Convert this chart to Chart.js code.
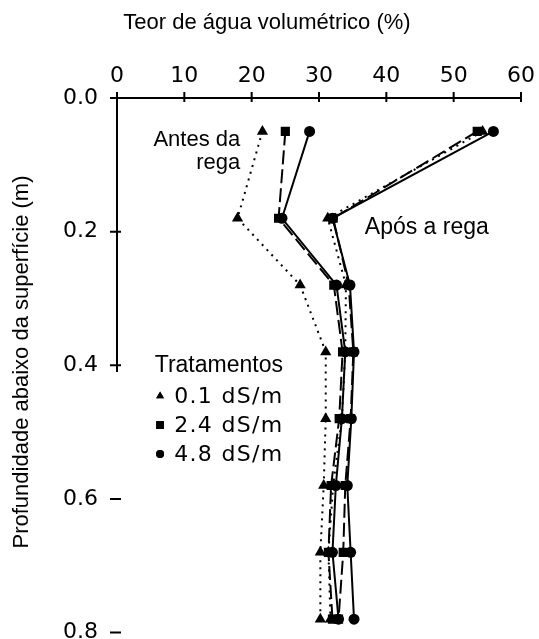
<!DOCTYPE html>
<html>
<head>
<meta charset="utf-8">
<script src="https://cdn.jsdelivr.net/npm/chart.js@4.4.1/dist/chart.umd.min.js"></script>
<style>
  html, body { margin: 0; padding: 0; background: #fff; }
  canvas { display: block; }
</style>
</head>
<body>
<canvas id="chart" width="539" height="639"></canvas>
<script>
// Sampling depths (m)
const depths = [0.05, 0.18, 0.28, 0.38, 0.48, 0.58, 0.68, 0.78];

// Volumetric water content (%) before irrigation, per treatment
const antes01 = [21.6, 17.9, 27.2, 31.0, 31.0, 30.7, 30.2, 30.2];
const antes24 = [25.0, 24.0, 32.2, 33.5, 33.0, 31.8, 31.4, 32.0];
const antes48 = [28.6, 24.5, 32.6, 33.9, 33.4, 32.5, 32.0, 32.9];

// Volumetric water content (%) after irrigation, per treatment
const apos01 = [54.3, 31.3, 34.0, 33.9, 33.4, 32.1, 31.4, 31.7];
const apos24 = [53.5, 32.1, 34.4, 35.1, 34.7, 33.9, 33.6, 32.9];
const apos48 = [55.9, 32.0, 34.6, 35.2, 34.8, 34.2, 34.7, 35.2];

const xTicks = [0, 10, 20, 30, 40, 50, 60];
const yTicks = [0.0, 0.2, 0.4, 0.6, 0.8];
const treatments = ['0.1 dS/m', '2.4 dS/m', '4.8 dS/m'];

const styles = [
  { point: 'triangle', radius: 6.5, key: 4.5, dash: [2, 5] },
  { point: 'rect', radius: 6.5, key: 5.5, dash: [14, 5] },
  { point: 'circle', radius: 5.5, key: 4, dash: [] },
];

function profile(values, i) {
  const s = styles[i];
  return {
    data: values.map((v, k) => ({ x: v, y: depths[k] })),
    borderColor: '#000',
    backgroundColor: '#000',
    borderWidth: 2,
    borderDash: s.dash,
    pointStyle: s.point,
    pointRadius: s.radius,
    pointBorderWidth: 0,
    tension: 0,
  };
}

const tickFont = { family: 'DejaVu Sans', size: 22 };
const labelFont = '22px "Liberation Sans", Arial, sans-serif';

// Axis lines, crossing tick marks, titles and text labels
const decorations = {
  id: 'decorations',
  afterDraw(chart) {
    const { ctx, chartArea: a, scales: { x, y } } = chart;
    ctx.save();
    ctx.strokeStyle = '#000';
    ctx.lineWidth = 2;
    ctx.beginPath();
    ctx.moveTo(a.left, a.top);
    ctx.lineTo(a.right, a.top);
    ctx.moveTo(a.left, a.top);
    ctx.lineTo(a.left, y.getPixelForValue(0.41));
    xTicks.forEach(t => {
      const px = x.getPixelForValue(t);
      ctx.moveTo(px, a.top - 6);
      ctx.lineTo(px, a.top + 4);
    });
    yTicks.forEach(t => {
      const py = y.getPixelForValue(t);
      ctx.moveTo(a.left - 7, py);
      ctx.lineTo(a.left + 4, py);
    });
    ctx.stroke();

    ctx.fillStyle = '#000';
    ctx.font = labelFont;
    ctx.textBaseline = 'middle';

    ctx.textAlign = 'center';
    ctx.fillText('Teor de água volumétrico (%)', 267, 23);

    ctx.save();
    ctx.translate(22, 362);
    ctx.rotate(-Math.PI / 2);
    ctx.fillText('Profundidade abaixo da superfície (m)', 0, 0);
    ctx.restore();

    ctx.textAlign = 'right';
    ctx.fillText('Antes da', x.getPixelForValue(18.3), y.getPixelForValue(0.063));
    ctx.fillText('rega', x.getPixelForValue(18.3), y.getPixelForValue(0.097));

    ctx.textAlign = 'left';
    ctx.font = '23px "Liberation Sans", Arial, sans-serif';
    ctx.fillText('Após a rega', x.getPixelForValue(36.8), y.getPixelForValue(0.194));

    // treatment key
    ctx.fillText('Tratamentos', x.getPixelForValue(5.6), y.getPixelForValue(0.40));
    ctx.font = '22px "DejaVu Sans", sans-serif';
    ctx.letterSpacing = '1.3px';
    treatments.forEach((name, i) => {
      const py = y.getPixelForValue(0.446 + i * 0.0435);
      const px = x.getPixelForValue(6.4);
      Chart.helpers.drawPoint(ctx, { pointStyle: styles[i].point, radius: styles[i].key, rotation: 0, borderWidth: 0 }, px, py);
      ctx.fill();
      ctx.fillText(name, x.getPixelForValue(8.5), py + 1);
    });
    ctx.restore();
  }
};

new Chart(document.getElementById('chart'), {
  type: 'line',
  data: {
    datasets: [
      profile(antes01, 0), profile(antes24, 1), profile(antes48, 2),
      profile(apos01, 0), profile(apos24, 1), profile(apos48, 2),
    ],
  },
  options: {
    responsive: false,
    animation: false,
    layout: { padding: { left: 0, top: 0, right: 18, bottom: 5 } },
    plugins: { legend: { display: false }, tooltip: { enabled: false } },
    scales: {
      x: {
        type: 'linear',
        position: 'top',
        min: 0,
        max: 60,
        afterBuildTicks: s => { s.ticks = xTicks.map(v => ({ value: v })); },
        afterFit: s => { s.height = 98; s.paddingLeft = 0; s.paddingRight = 0; },
        grid: { display: false, drawTicks: false },
        border: { display: false },
        ticks: { font: tickFont, color: '#000', padding: 9, maxRotation: 0 },
      },
      y: {
        type: 'linear',
        reverse: true,
        min: 0,
        max: 0.8,
        afterBuildTicks: s => { s.ticks = yTicks.map(v => ({ value: v })); },
        afterFit: s => { s.width = 117; s.paddingTop = 0; s.paddingBottom = 0; },
        grid: { display: false, drawTicks: false },
        border: { display: false },
        ticks: { font: tickFont, color: '#000', padding: 19, callback: v => v.toFixed(1) },
      },
    },
  },
  plugins: [decorations],
});
</script>
</body>
</html>
